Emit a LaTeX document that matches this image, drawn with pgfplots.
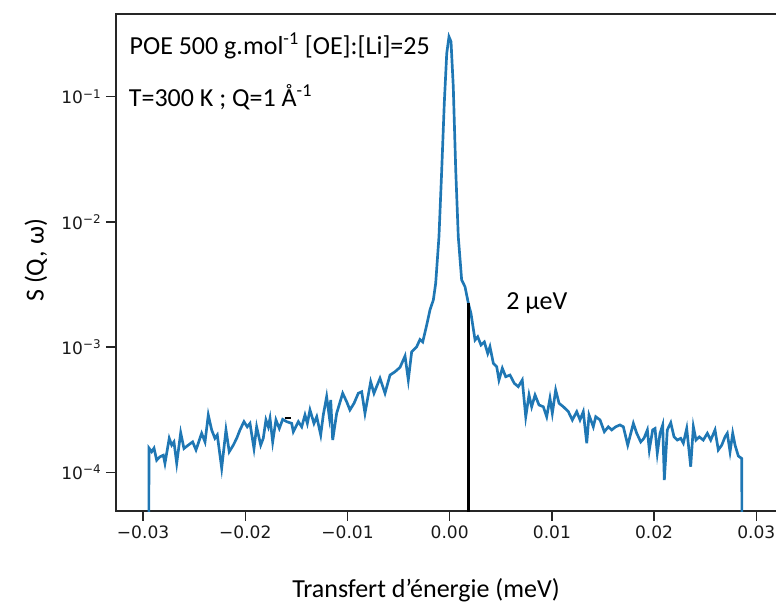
\documentclass[border=0pt]{standalone}
\usepackage{fontspec}
\setmainfont{Carlito}
\newfontfamily\tickfont{DejaVu Sans}
\usepackage{pgfplots}
\pgfplotsset{compat=1.18}
\definecolor{mplblue}{HTML}{1F77B4}

\begin{document}
\begin{tikzpicture}
\useasboundingbox (-87pt,-69.75pt) rectangle (495pt,383.25pt);
\begin{axis}[
  at={(0,0)}, anchor=south west,
  scale only axis, width=497.1pt, height=372.75pt,
  xmin=-0.03265, xmax=0.0322,
  ymode=log, ymin=4.91e-5, ymax=0.4575,
  scaled x ticks=false,
  xtick={-0.03,-0.02,-0.01,0,0.01,0.02,0.03},
  xticklabels={−0.03,−0.02,−0.01,0.00,0.01,0.02,0.03},
  ytick={1e-4,1e-3,1e-2,1e-1},
  yticklabels={10\textsuperscript{−4},10\textsuperscript{−3},10\textsuperscript{−2},10\textsuperscript{−1}},
  yminorticks=false,
  tick pos=left,
  tick align=outside,
  major tick length=7.5pt,
  tick style={line width=1.1pt, black!85},
  axis line style={line width=1.3pt, black!85},
  ticklabel style={font=\tickfont\fontsize{12.8}{14}\selectfont, text=black!90},
]
% measured spectrum
\addplot[mplblue, line width=2pt] coordinates {
(-0.02949,1e-6) (-0.02942,1.56e-4) (-0.02916,1.46e-4) (-0.02893,1.56e-4) (-0.02867,1.25e-4)
(-0.02835,1.33e-4) (-0.02802,1.37e-4) (-0.02786,1.18e-4) (-0.02744,1.87e-4) (-0.02720,1.65e-4)
(-0.02698,1.75e-4) (-0.02671,1.18e-4) (-0.02632,2.07e-4) (-0.02600,1.55e-4) (-0.02558,1.65e-4)
(-0.02515,1.75e-4) (-0.02482,1.51e-4) (-0.02427,2.05e-4) (-0.02394,1.75e-4) (-0.02362,2.87e-4)
(-0.02329,2.18e-4) (-0.02297,1.87e-4) (-0.02274,1.99e-4) (-0.02231,1.08e-4) (-0.02189,2.18e-4)
(-0.02157,1.46e-4) (-0.02117,1.65e-4) (-0.02084,1.87e-4) (-0.02052,2.18e-4) (-0.02013,2.54e-4)
(-0.01981,2.31e-4) (-0.01954,2.46e-4) (-0.01915,1.55e-4) (-0.01889,2.31e-4) (-0.01849,1.65e-4)
(-0.01824,1.87e-4) (-0.01798,2.62e-4) (-0.01775,2.31e-4) (-0.01758,2.70e-4) (-0.01732,1.75e-4)
(-0.01700,2.62e-4) (-0.01667,2.24e-4) (-0.01634,2.65e-4) (-0.01595,2.54e-4) (-0.01546,2.46e-4)
(-0.01530,2.11e-4) (-0.01481,2.54e-4) (-0.01448,2.31e-4) (-0.01416,2.87e-4) (-0.01393,2.46e-4)
(-0.01367,3.15e-4) (-0.01328,2.46e-4) (-0.01301,2.78e-4) (-0.01262,1.99e-4) (-0.01237,2.87e-4)
(-0.01204,4.02e-4) (-0.01178,2.78e-4) (-0.01164,3.78e-4) (-0.01145,1.81e-4) (-0.01106,2.96e-4)
(-0.01047,4.28e-4) (-0.01008,3.66e-4) (-0.00976,3.15e-4) (-0.00936,3.56e-4) (-0.00894,4.28e-4)
(-0.00861,4.40e-4) (-0.00829,2.96e-4) (-0.00773,5.29e-4) (-0.00741,4.28e-4) (-0.00682,5.64e-4)
(-0.00633,4.28e-4) (-0.00584,5.98e-4) (-0.00535,6.36e-4) (-0.00486,6.90e-4) (-0.00437,8.49e-4)
(-0.00405,5.46e-4) (-0.00372,9.19e-4) (-0.00323,1.007e-3) (-0.00291,1.15e-3) (-0.00264,1.10e-3)
(-0.00225,1.50e-3) (-0.00193,1.98e-3) (-0.00160,2.38e-3) (-0.00137,3.24e-3) (-0.00105,7.62e-3)
(-0.00078,2.60e-2) (-0.00053,8.85e-2) (-0.00029,2.22e-1) (-0.00007,3.01e-1) (0.00013,2.75e-1)
(0.00035,1.20e-1) (0.00059,2.60e-2) (0.00084,7.62e-3) (0.00117,3.44e-3) (0.00150,3.03e-3)
(0.00176,2.38e-3) (0.00182,2.24e-3) (0.00208,1.86e-3) (0.00248,1.14e-3) (0.00274,1.21e-3)
(0.00306,1.04e-3) (0.00339,1.10e-3) (0.00372,8.91e-4) (0.00394,1.007e-3) (0.00427,7.43e-4)
(0.00460,6.97e-4) (0.00482,5.46e-4) (0.00515,6.78e-4) (0.00548,5.80e-4) (0.00590,5.98e-4)
(0.00632,5.14e-4) (0.00671,4.83e-4) (0.00710,5.46e-4) (0.00744,2.78e-4) (0.00776,4.14e-4)
(0.00802,3.34e-4) (0.00835,4.14e-4) (0.00874,3.45e-4) (0.00916,3.34e-4) (0.00949,2.78e-4)
(0.00981,3.90e-4) (0.01004,2.96e-4) (0.01037,4.54e-4) (0.01070,3.56e-4) (0.01112,3.34e-4)
(0.01161,3.05e-4) (0.01200,2.62e-4) (0.01243,3.05e-4) (0.01275,2.62e-4) (0.01307,3.05e-4)
(0.01341,1.71e-4) (0.01363,2.87e-4) (0.01405,2.31e-4) (0.01429,2.78e-4) (0.01471,2.62e-4)
(0.01513,2.11e-4) (0.01552,2.31e-4) (0.01585,2.18e-4) (0.01624,2.31e-4) (0.01666,2.39e-4)
(0.01699,2.31e-4) (0.01742,1.65e-4) (0.01797,2.46e-4) (0.01830,2.05e-4) (0.01869,1.75e-4)
(0.01901,1.87e-4) (0.01934,2.18e-4) (0.01953,1.51e-4) (0.01986,2.18e-4) (0.02009,2.24e-4)
(0.02031,1.42e-4) (0.02058,2.05e-4) (0.02084,2.39e-4) (0.02100,8.68e-5) (0.02129,2.18e-4)
(0.02163,2.49e-4) (0.02195,1.92e-4) (0.02227,1.81e-4) (0.02260,1.87e-4) (0.02286,1.71e-4)
(0.02319,2.24e-4) (0.02358,1.11e-4) (0.02384,2.31e-4) (0.02410,1.81e-4) (0.02442,1.92e-4)
(0.02481,1.81e-4) (0.02521,2.05e-4) (0.02554,1.81e-4) (0.02596,2.18e-4) (0.02628,1.51e-4)
(0.02662,1.65e-4) (0.02694,1.92e-4) (0.02716,2.05e-4) (0.02743,1.46e-4) (0.02769,2.05e-4)
(0.02792,1.65e-4) (0.02824,1.35e-4) (0.02857,1.29e-4) (0.02867,1e-6)
};
% 2 micro-eV marker
\addplot[black, line width=2.6pt] coordinates {(0.00182,1e-6) (0.00182,2.26e-3)};
% small black dash
\addplot[black, line width=1.5pt] coordinates {(-0.01616,2.70e-4) (-0.01557,2.70e-4)};
\end{axis}
\begin{scope}[every node/.style={inner sep=0pt, font=\fontsize{19.5}{23}\selectfont}]
\node[anchor=base west] at (10pt,342pt) {POE 500 g.mol\textsuperscript{-1} [OE]:[Li]=25};
\node[anchor=base west] at (9.5pt,303.2pt) {T=300 K ; Q=1 Å\textsuperscript{-1}};
\node[anchor=base west] at (292.5pt,150.75pt) {2 µeV};
\node[anchor=base] at (232.5pt,-65.25pt) {Transfert d’énergie (meV)};
\node[rotate=90, anchor=center] at (-60pt,188pt) {S (Q, ω)};
\end{scope}
\end{tikzpicture}
\end{document}
